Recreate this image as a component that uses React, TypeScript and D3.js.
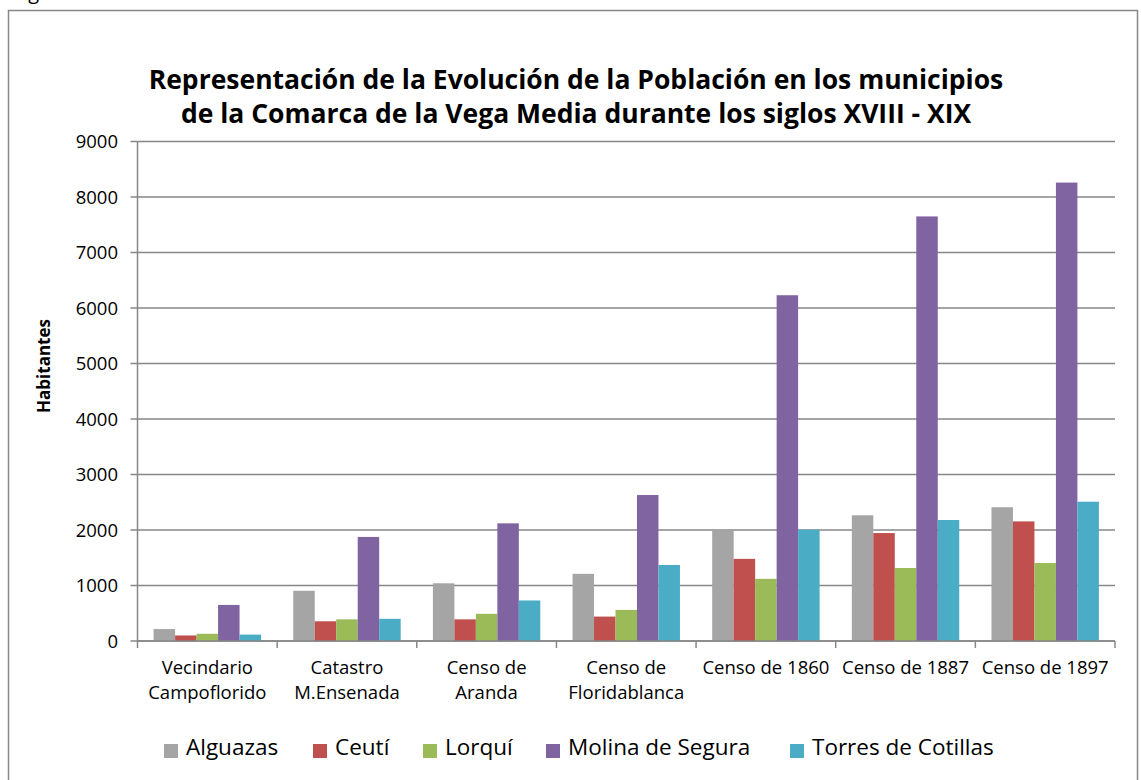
import React from "react";
import * as d3 from "d3";

const categories: string[][] = [
  ["Vecindario", "Campoflorido"],
  ["Catastro", "M.Ensenada"],
  ["Censo de", "Aranda"],
  ["Censo de", "Floridablanca"],
  ["Censo de 1860"],
  ["Censo de 1887"],
  ["Censo de 1897"],
];
const seriesNames = ["Alguazas", "Ceutí", "Lorquí", "Molina de Segura", "Torres de Cotillas"];
const seriesColors = ["#A5A5A5", "#C0504D", "#9BBB59", "#8064A2", "#4BACC6"];
const alguazas = [215, 905, 1040, 1210, 2010, 2265, 2410];
const ceuti = [100, 355, 390, 440, 1480, 1945, 2155];
const lorqui = [130, 390, 490, 560, 1120, 1315, 1405];
const molina = [650, 1875, 2120, 2630, 6230, 7650, 8260];
const torres = [115, 400, 730, 1370, 2005, 2180, 2510];
const seriesValues = [alguazas, ceuti, lorqui, molina, torres];
const yTicks = [0, 1000, 2000, 3000, 4000, 5000, 6000, 7000, 8000, 9000];
const titleLines = [
  "Representación de la Evolución de la Población en los municipios",
  "de la Comarca de la Vega Media durante los siglos XVIII - XIX",
];
const yTitle = "Habitantes";

const W = 1141;
const H = 780;
const FONT = "'Open Sans', 'DejaVu Sans', sans-serif";
const GRID = "#878787";

export default function App() {
  const left = 137.5;
  const right = 1115;
  const top = 141.5;
  const bottom = 641;
  const catKeys = categories.map((c) => c.join(" "));
  const x0 = d3.scaleBand<string>().domain(catKeys).range([left, right]).paddingInner(0).paddingOuter(0);
  const x1 = d3
    .scaleBand<string>()
    .domain(seriesNames)
    .range([0, x0.bandwidth()])
    .paddingInner(0)
    .paddingOuter(0.75);
  const y = d3.scaleLinear().domain([0, 9000]).range([bottom, top]);

  const legendX = [164, 313, 423, 546, 790];

  return (
    <svg
      width={W}
      height={H}
      style={{ position: "absolute", left: 0, top: 0, background: "#fff" }}
      fontFamily={FONT}
    >
      <rect x={0} y={0} width={W} height={H} fill="#fff" />
      <text x={13} y={-1} fontSize={20} fill="#000">Figura</text>
      <rect x={8.5} y={10.5} width={1129} height={800} fill="#fff" stroke={GRID} strokeWidth={1.5} />

      {titleLines.map((t, i) => (
        <text
          key={i}
          x={576}
          y={89 + i * 34}
          textAnchor="middle"
          fontSize={26.5}
          fontWeight="bold"
          fill="#000"
        >
          {t}
        </text>
      ))}

      {yTicks.map((t) => (
        <line key={"g" + t} x1={left} x2={right} y1={y(t)} y2={y(t)} stroke={GRID} strokeWidth={1.5} />
      ))}

      {catKeys.map((c, ci) => (
        <g key={c} transform={`translate(${x0(c)},0)`}>
          {seriesNames.map((s, si) => {
            const v = seriesValues[si][ci];
            return (
              <rect
                key={s}
                x={x1(s)}
                y={y(v)}
                width={x1.bandwidth()}
                height={y(0) - y(v)}
                fill={seriesColors[si]}
              />
            );
          })}
        </g>
      ))}

      <line x1={left} x2={left} y1={top} y2={bottom} stroke={GRID} strokeWidth={1.5} />
      {yTicks.map((t) => (
        <g key={"t" + t}>
          <line x1={left - 7} x2={left} y1={y(t)} y2={y(t)} stroke={GRID} strokeWidth={1.5} />
          <text x={118} y={y(t) + 6.5} textAnchor="end" fontSize={18.5} fill="#000">
            {t}
          </text>
        </g>
      ))}

      <line x1={left} x2={right} y1={bottom} y2={bottom} stroke={GRID} strokeWidth={1.5} />
      {[...catKeys.map((c) => x0(c) as number), right].map((xx, i) => (
        <line key={"xt" + i} x1={xx} x2={xx} y1={bottom} y2={bottom + 7} stroke={GRID} strokeWidth={1.5} />
      ))}
      {categories.map((lines, ci) => (
        <text
          key={"xl" + ci}
          x={(x0(catKeys[ci]) as number) + x0.bandwidth() / 2}
          textAnchor="middle"
          fontSize={18.5}
          fill="#000"
        >
          {lines.map((l, li) => (
            <tspan key={li} x={(x0(catKeys[ci]) as number) + x0.bandwidth() / 2} y={674 + li * 25}>
              {l}
            </tspan>
          ))}
        </text>
      ))}

      <text
        transform={`translate(50,366) rotate(-90)`}
        textAnchor="middle"
        fontSize={17}
        fontWeight="bold"
        fill="#000"
      >
        {yTitle}
      </text>

      {seriesNames.map((s, i) => (
        <g key={"lg" + s}>
          <rect x={legendX[i]} y={744} width={14} height={14} fill={seriesColors[i]} />
          <text x={legendX[i] + 22} y={755} fontSize={22.5} fill="#000">
            {s}
          </text>
        </g>
      ))}
    </svg>
  );
}
